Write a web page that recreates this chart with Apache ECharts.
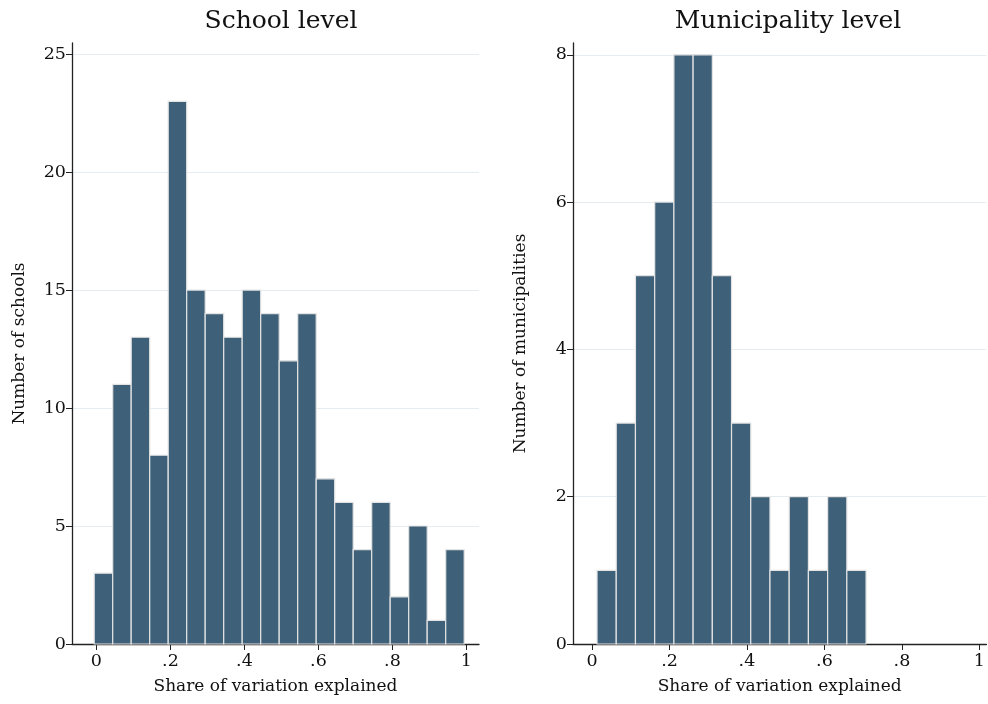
<!DOCTYPE html>
<html><head><meta charset="utf-8">
<script src="https://cdn.jsdelivr.net/npm/echarts@6/dist/echarts.min.js"></script>
<style>html,body{margin:0;padding:0;background:#fff}#c{width:988px;height:704px}</style>
</head><body><div id="c"></div>
<script>
// Data
var schoolCounts = [3,11,13,8,23,15,14,13,15,14,12,14,7,6,4,6,2,5,1,4];
var schoolEdges = [-0.006,0.044,0.094,0.144,0.194,0.244,0.294,0.344,0.394,0.444,0.494,0.544,0.594,0.644,0.694,0.744,0.794,0.844,0.894,0.944,0.994];
var muniCounts = [1,3,5,6,8,8,5,3,2,1,2,1,2,1];
var muniEdges = [0.013,0.0626,0.1122,0.1618,0.2114,0.261,0.3106,0.3602,0.4098,0.4594,0.509,0.5586,0.6082,0.6578,0.7074];
var xTicks = [0,0.2,0.4,0.6,0.8,1];
var schoolYTicks = [0,5,10,15,20,25];
var muniYTicks = [0,2,4,6,8];
var titles = ['School level','Municipality level'];
var xName = 'Share of variation explained';
var yNames = ['Number of schools','Number of municipalities'];

function rows(counts, edges){
  return counts.map(function(c,i){return [edges[i], edges[i+1], c];});
}
var FONT = 'DejaVu Serif';
var BAR = '#3e6079';
function xlab(v){ if(v===0) return '0'; if(v===1) return '1'; return String(v).replace(/^0/,''); }
function render(params, api){
  var p0 = api.coord([api.value(0), api.value(2)]);
  var p1 = api.coord([api.value(1), 0]);
  return {type:'rect', shape:{x:p0[0], y:p0[1], width:p1[0]-p0[0], height:p1[1]-p0[1]},
    style:{fill:BAR, stroke:'#e4e4e4', lineWidth:1.2}};
}
function xAxis(idx, min, max){
  return {type:'value', gridIndex:idx, min:min, max:max,
    name:xName, nameLocation:'middle', nameGap:34,
    nameTextStyle:{fontFamily:FONT, fontSize:17, color:'#111'},
    axisLine:{show:true, onZero:false, lineStyle:{color:'#222', width:1.3}},
    axisTick:{show:true, length:6, customValues:xTicks, lineStyle:{color:'#222'}},
    axisLabel:{customValues:xTicks, formatter:xlab, fontFamily:FONT, fontSize:17.5, color:'#111', margin:8},
    splitLine:{show:false}};
}
function yAxis(idx, max, ticks, name, gap){
  return {type:'value', gridIndex:idx, min:0, max:max,
    name:name, nameLocation:'middle', nameGap:gap, nameRotate:90,
    nameTextStyle:{fontFamily:FONT, fontSize:17, color:'#111'},
    axisLine:{show:true, onZero:false, lineStyle:{color:'#222', width:1.3}},
    axisTick:{show:true, length:6, customValues:ticks, lineStyle:{color:'#222'}},
    axisLabel:{customValues:ticks, fontFamily:FONT, fontSize:17.5, color:'#111', margin:6},
    splitLine:{show:true, lineStyle:{color:'#e6edf1', width:1.2}}};
}
var chart = echarts.init(document.getElementById('c'), null, {renderer:'canvas'});
chart.setOption({
  animation:false,
  backgroundColor:'#fff',
  title:[
    {text:titles[0], left:276, top:4, textAlign:'center', textStyle:{fontFamily:FONT, fontSize:25, fontWeight:'normal', color:'#111'}},
    {text:titles[1], left:783, top:4, textAlign:'center', textStyle:{fontFamily:FONT, fontSize:25, fontWeight:'normal', color:'#111'}}
  ],
  grid:[
    {left:72, top:43, width:407, height:601},
    {left:573, top:43, width:414, height:601}
  ],
  xAxis:[xAxis(0,-0.066,1.034), xAxis(1,-0.049,1.018)],
  yAxis:[yAxis(0,25.47,schoolYTicks,yNames[0],44), yAxis(1,8.16,muniYTicks,yNames[1],44)],
  series:[
    {type:'custom', xAxisIndex:0, yAxisIndex:0, renderItem:render, encode:{x:[0,1], y:2}, data:rows(schoolCounts, schoolEdges)},
    {type:'custom', xAxisIndex:1, yAxisIndex:1, renderItem:render, encode:{x:[0,1], y:2}, data:rows(muniCounts, muniEdges)}
  ]
});
</script></body></html>
